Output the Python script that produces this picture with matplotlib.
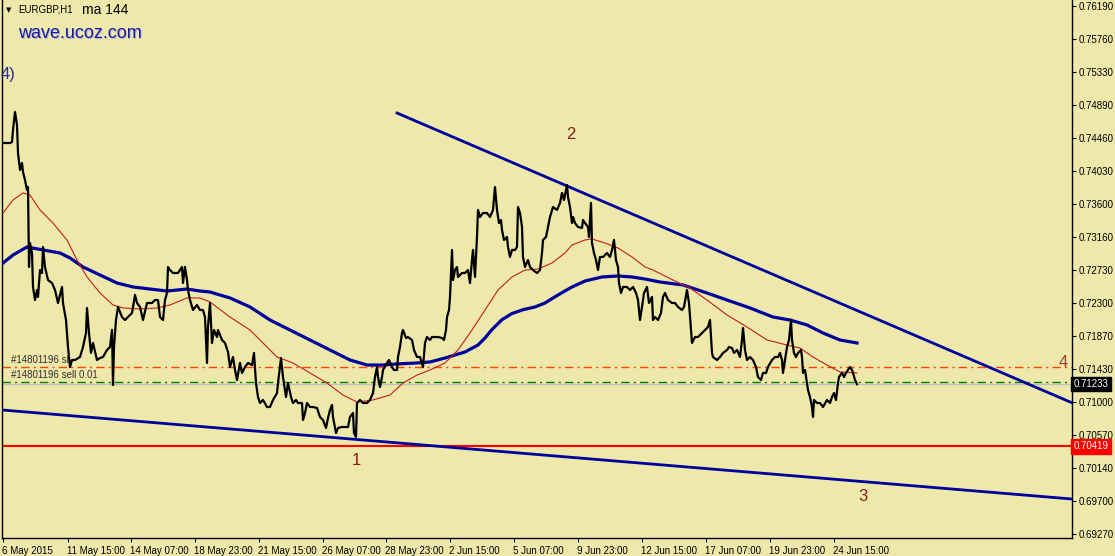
import numpy as np
import matplotlib
matplotlib.use("Agg")
import matplotlib.pyplot as plt
import matplotlib.transforms as mtransforms

plt.rcParams['font.family'] = ['Liberation Sans', 'DejaVu Sans']

# EURGBP H1 closes, sampled from the chart (bar number, price)
bars = [0, 5, 7, 9, 10, 12, 14, 15, 17, 19, 20, 22, 24, 25, 26, 27, 29, 30, 32, 34,
        35, 37, 39, 40, 42, 45, 49, 52, 55, 59, 60, 63, 65, 67, 69, 72, 77, 80, 83, 84,
        86, 88, 90, 94, 97, 100, 104, 107, 109, 110, 111, 113, 115, 119, 122, 125, 129, 132, 134, 137,
        140, 144, 149, 152, 155, 157, 160, 162, 164, 165, 167, 170, 175, 179, 180, 182, 184, 185, 187, 190,
        194, 197, 200, 202, 204, 205, 207, 209, 211, 214, 215, 219, 222, 225, 227, 230, 232, 234, 237, 239,
        242, 245, 249, 251, 253, 255, 257, 260, 264, 267, 270, 274, 275, 278, 280, 283, 285, 288, 290, 293,
        295, 299, 300, 302, 304, 307, 310, 314, 317, 320, 323, 325, 327, 329, 330, 333, 335, 339, 342, 345,
        347, 350, 351, 353, 354, 357, 360, 364, 367, 370, 372, 374, 375, 377, 379, 380, 384, 386, 389, 391,
        394, 395, 397, 399, 400, 403, 405, 409, 411, 414, 417, 420, 422, 424, 427, 429, 432, 435, 439, 441,
        443, 444, 446, 447, 449, 450, 452, 454, 455, 459, 462, 465, 467, 469, 470, 472, 474, 475, 477, 480,
        484, 487, 490, 492, 494, 496, 498, 499, 501, 504, 505, 507, 509, 512, 514, 515, 517, 519, 520, 522,
        525, 527, 530, 534, 537, 539, 540, 543, 545, 547, 550, 554, 557, 559, 561, 564, 565, 567, 569, 570,
        572, 575, 579, 580, 582, 585, 586, 588, 589, 591, 593, 595, 597, 600, 604, 607, 609, 611, 613, 615,
        616, 618, 620, 624, 627, 630, 633, 635, 637, 639, 641, 644, 646, 649, 650, 652, 655, 658, 660, 662,
        665, 669, 672, 675, 679, 681, 684, 686, 688, 689, 692, 695, 699, 702, 705, 707, 709, 710, 714, 717,
        720, 724, 726, 729, 731, 734, 737, 739, 740, 742, 744, 747, 750, 753, 755, 758, 760, 763, 765, 769,
        772, 775, 777, 779, 780, 783, 784, 786, 788, 789, 791, 793, 795, 798, 799, 800, 802, 804, 805, 807,
        809, 810, 811, 814, 817, 820, 824, 827, 829, 831, 833, 835, 836, 839, 841, 843, 845, 847, 849, 850,
        852, 854]
close = [0.74395, 0.74395, 0.74395, 0.74408, 0.74565, 0.74801, 0.74631, 0.74264, 0.74041, 0.74133,
         0.74015, 0.73910, 0.73779, 0.73818, 0.72770, 0.73084, 0.72953, 0.72508, 0.72337, 0.72468,
         0.72377, 0.72730, 0.72691, 0.73032, 0.72770, 0.72599, 0.72560, 0.72468, 0.72298, 0.72508,
         0.72298, 0.72075, 0.71721, 0.71459, 0.71551, 0.71551, 0.71590, 0.71721, 0.71905, 0.72233,
         0.71905, 0.71643, 0.71774, 0.71551, 0.71577, 0.71590, 0.71682, 0.71721, 0.71944, 0.71223,
         0.71721, 0.72075, 0.72246, 0.72114, 0.72075, 0.72114, 0.72167, 0.72403, 0.72298, 0.72246,
         0.72075, 0.72298, 0.72298, 0.72337, 0.72337, 0.72114, 0.72075, 0.72337, 0.72429, 0.72770,
         0.72730, 0.72691, 0.72691, 0.72770, 0.72560, 0.72770, 0.72599, 0.72468, 0.72337, 0.72206,
         0.72272, 0.72206, 0.72206, 0.72114, 0.71512, 0.71983, 0.72298, 0.71774, 0.71944, 0.71852,
         0.71944, 0.71813, 0.71774, 0.71656, 0.71459, 0.71590, 0.71420, 0.71289, 0.71512, 0.71381,
         0.71459, 0.71512, 0.71485, 0.71643, 0.71249, 0.71066, 0.70987, 0.71027, 0.70935, 0.70935,
         0.71027, 0.71118, 0.71249, 0.71577, 0.71328, 0.71066, 0.71249, 0.71066, 0.70987, 0.71027,
         0.70987, 0.70987, 0.70765, 0.70856, 0.70987, 0.70935, 0.70935, 0.70922, 0.70804, 0.70765,
         0.70660, 0.70791, 0.70896, 0.70961, 0.70804, 0.70594, 0.70660, 0.70673, 0.70673, 0.70673,
         0.70804, 0.70856, 0.70594, 0.70542, 0.70987, 0.71027, 0.70987, 0.70987, 0.71027, 0.71118,
         0.71328, 0.71459, 0.71328, 0.71197, 0.71328, 0.71420, 0.71512, 0.71551, 0.71459, 0.71420,
         0.71420, 0.71590, 0.71721, 0.71905, 0.71944, 0.71839, 0.71852, 0.71813, 0.71682, 0.71590,
         0.71590, 0.71459, 0.71774, 0.71852, 0.71813, 0.71852, 0.71852, 0.71852, 0.71839, 0.71813,
         0.71944, 0.72114, 0.72206, 0.72377, 0.72993, 0.72599, 0.72730, 0.72770, 0.72639, 0.72691,
         0.72691, 0.72730, 0.72560, 0.72861, 0.72993, 0.72639, 0.73163, 0.73517, 0.73425, 0.73477,
         0.73477, 0.73425, 0.73517, 0.73818, 0.73517, 0.73346, 0.73386, 0.73255, 0.73124, 0.73163,
         0.73032, 0.72901, 0.72993, 0.72993, 0.73032, 0.73556, 0.73477, 0.73294, 0.72901, 0.72770,
         0.72861, 0.72770, 0.72730, 0.72691, 0.72730, 0.72953, 0.73124, 0.73163, 0.73294, 0.73425,
         0.73556, 0.73517, 0.73609, 0.73740, 0.73648, 0.73844, 0.73687, 0.73556, 0.73346, 0.73425,
         0.73346, 0.73294, 0.73281, 0.73386, 0.73346, 0.73294, 0.73163, 0.73609, 0.73084, 0.72953,
         0.72861, 0.72730, 0.72901, 0.72901, 0.72953, 0.72901, 0.72993, 0.73124, 0.72861, 0.72770,
         0.72560, 0.72429, 0.72508, 0.72508, 0.72468, 0.72508, 0.72429, 0.72337, 0.72075, 0.72246,
         0.72429, 0.72508, 0.72298, 0.72377, 0.72075, 0.72114, 0.72075, 0.72167, 0.72377, 0.72429,
         0.72337, 0.72298, 0.72298, 0.72246, 0.72206, 0.72246, 0.72468, 0.72298, 0.71944, 0.71774,
         0.71852, 0.71852, 0.71905, 0.71944, 0.71983, 0.72075, 0.71643, 0.71590, 0.71551, 0.71590,
         0.71643, 0.71682, 0.71721, 0.71708, 0.71643, 0.71682, 0.71590, 0.71813, 0.71970, 0.71682,
         0.71551, 0.71590, 0.71551, 0.71459, 0.71328, 0.71289, 0.71381, 0.71381, 0.71459, 0.71551,
         0.71590, 0.71590, 0.71643, 0.71551, 0.71381, 0.71643, 0.71721, 0.71813, 0.72075, 0.71813,
         0.71643, 0.71590, 0.71643, 0.71682, 0.71590, 0.71381, 0.71420, 0.71249, 0.71158, 0.71066,
         0.70935, 0.70804, 0.71027, 0.70987, 0.70987, 0.70935, 0.71027, 0.70987, 0.71066, 0.71118,
         0.71027, 0.71249, 0.71328, 0.71381, 0.71328, 0.71381, 0.71420, 0.71459, 0.71420, 0.71381,
         0.71289, 0.71233]

# moving average 144 (blue)
ma144_bars = [0, 10, 24, 40, 57, 67, 80, 97, 114, 130, 147, 164, 184, 197, 207, 227, 247, 267, 287, 307,
              327, 347, 364, 380, 394, 414, 427, 442, 462, 475, 482, 489, 499, 509, 520, 532, 542, 555, 569, 582,
              599, 615, 629, 642, 657, 680, 704, 724, 747, 770, 787, 804, 820, 837, 854]
ma144 = [0.72822, 0.72927, 0.73032, 0.72993, 0.72953, 0.72888, 0.72770, 0.72665, 0.72560, 0.72508,
         0.72481, 0.72455, 0.72481, 0.72455, 0.72442, 0.72364, 0.72246, 0.72075, 0.71944, 0.71813,
         0.71682, 0.71551, 0.71485, 0.71485, 0.71499, 0.71512, 0.71525, 0.71577, 0.71656, 0.71747,
         0.71840, 0.71950, 0.72080, 0.72160, 0.72210, 0.72246, 0.72298, 0.72403, 0.72508, 0.72586,
         0.72639, 0.72652, 0.72639, 0.72612, 0.72573, 0.72534, 0.72429, 0.72337, 0.72233, 0.72114,
         0.72075, 0.72010, 0.71905, 0.71813, 0.71774]

# faster moving average (red)
ma_fast_bars = [0, 10, 20, 27, 37, 50, 64, 74, 84, 97, 110, 120, 137, 154, 167, 184, 197, 207, 227, 247,
                260, 274, 290, 307, 324, 340, 354, 370, 387, 400, 414, 427, 442, 455, 469, 482, 495, 509, 522, 535,
                549, 562, 569, 582, 589, 602, 615, 629, 642, 650, 670, 687, 704, 724, 744, 764, 784, 797, 810, 824,
                837, 854]
ma_fast = [0.73477, 0.73648, 0.73740, 0.73713, 0.73517, 0.73346, 0.73124, 0.72861, 0.72639, 0.72429,
           0.72272, 0.72233, 0.72219, 0.72233, 0.72272, 0.72364, 0.72364, 0.72311, 0.72114, 0.71944,
           0.71774, 0.71590, 0.71512, 0.71381, 0.71249, 0.71092, 0.71000, 0.71027, 0.71092, 0.71249,
           0.71354, 0.71420, 0.71512, 0.71682, 0.71944, 0.72206, 0.72468, 0.72639, 0.72730, 0.72743,
           0.72822, 0.72953, 0.73058, 0.73124, 0.73137, 0.73084, 0.73019, 0.72901, 0.72770, 0.72730,
           0.72599, 0.72494, 0.72337, 0.72141, 0.71983, 0.71813, 0.71747, 0.71708, 0.71590, 0.71485,
           0.71394, 0.71381]

# trend lines (bar, price) endpoints
upper_line_bars = [394, 1069]
upper_line = [0.74788, 0.70990]
lower_line_bars = [-1, 1069]
lower_line = [0.70896, 0.69729]

support = 0.70419
sl_price = 0.71455
sell_price = 0.71258
bid = 0.71233

y_ticks = [0.76190, 0.75760, 0.75330, 0.74890, 0.74460, 0.74030, 0.73600, 0.73160, 0.72730,
           0.72300, 0.71870, 0.71430, 0.71000, 0.70570, 0.70140, 0.69700, 0.69270]
x_tick_bars = [0, 65, 128, 192, 256, 320, 383, 447, 511, 575, 639, 703, 767, 831]
x_tick_labels = ["6 May 2015", "11 May 15:00", "14 May 07:00", "18 May 23:00", "21 May 15:00",
                 "26 May 07:00", "28 May 23:00", "2 Jun 15:00", "5 Jun 07:00", "9 Jun 23:00",
                 "12 Jun 15:00", "17 Jun 07:00", "19 Jun 23:00", "24 Jun 15:00"]

bg = "#EEE8AA"
navy = "#00009C"
wave_red = "#8B1A1A"

fig = plt.figure(figsize=(11.15, 5.56), dpi=100, facecolor=bg)
ax = fig.add_axes([2 / 1115, 1 - 538 / 556, 1070 / 1115, 538 / 556], facecolor=bg)

ax.set_xlim(-1, 1069)
ax.set_ylim(0.69218, 0.76269)

# horizontal levels
ax.axhline(bid, color="#C0C0C0", lw=1.0, zorder=1)
ax.axhline(sl_price, color="#FF4500", lw=1.0, dashes=(6, 3, 1.5, 3), zorder=1)
ax.axhline(sell_price, color="#008000", lw=1.0, dashes=(6, 3, 1.5, 3), zorder=1)
ax.axhline(support, color="#FF0000", lw=1.5, zorder=2)

# trend lines
ax.plot(upper_line_bars, upper_line, color=navy, lw=2.0, zorder=3)
ax.plot(lower_line_bars, lower_line, color=navy, lw=2.0, zorder=3)

# moving averages
ax.plot(ma144_bars, ma144, color=navy, lw=2.3, zorder=4)
ax.plot(ma_fast_bars, ma_fast, color="#C0201A", lw=0.8, zorder=4)

# price
ax.plot(bars, close, color="black", lw=1.6, zorder=5)

# axes styling
for side in ["left", "right", "bottom"]:
    ax.spines[side].set_color("black")
    ax.spines[side].set_linewidth(1.0)
ax.spines["top"].set_visible(False)

ax.yaxis.tick_right()
ax.set_yticks(y_ticks)
ax.set_yticklabels(["%.5f" % v for v in y_ticks])
ax.tick_params(axis="y", direction="out", length=3, width=0.8, pad=1.5,
               labelsize=7, colors="black")
ax.set_xticks(x_tick_bars)
ax.set_xticklabels(x_tick_labels, ha="left")
ax.tick_params(axis="x", direction="out", length=3, width=0.8, pad=3,
               labelsize=7, colors="black")
for lab in ax.get_xticklabels():
    lab.set_transform(lab.get_transform() + mtransforms.ScaledTranslation(-1 / 100, 0, fig.dpi_scale_trans))

# price tags on the right axis
trans = mtransforms.blended_transform_factory(ax.transAxes, ax.transData)
ax.text(1.0015, bid, "%.5f" % bid, transform=trans, fontsize=7, color="white", va="center",
        ha="left", bbox=dict(boxstyle="square,pad=0.22", fc="black", ec="black"), zorder=10,
        clip_on=False)
ax.text(1.0015, support, "%.5f" % support, transform=trans, fontsize=7, color="white", va="center",
        ha="left", bbox=dict(boxstyle="square,pad=0.22", fc="#FF0000", ec="#FF0000"), zorder=10,
        clip_on=False)

# order labels
ax.text(8, sl_price + 0.0003, "#14801196 sl", fontsize=7, color="#303030", va="bottom")
ax.text(8, sell_price + 0.0003, "#14801196 sell 0.01", fontsize=7, color="#303030", va="bottom")

# header
ax.text(0.004, 0.982, "\u25bc", transform=ax.transAxes, fontsize=5, color="black", va="center",
        family="DejaVu Sans")
ax.text(0.015, 0.982, "EURGBP,H1", transform=ax.transAxes, fontsize=7, color="black", va="center")
ax.text(0.075, 0.982, "ma 144", transform=ax.transAxes, fontsize=10, color="black", va="center")
ax.text(0.0160, 0.9355, "wave.ucoz.com", transform=ax.transAxes, fontsize=13, color="#B8B8D8",
        va="center")
ax.text(0.0150, 0.9385, "wave.ucoz.com", transform=ax.transAxes, fontsize=13, color="#1A1AA0",
        va="center")
ax.text(-0.001, 0.862, "4)", transform=ax.transAxes, fontsize=12, color="#2A2A90", va="center")

# wave counts
ax.text(353, 0.70235, "1", fontsize=12, color=wave_red, ha="center", va="center")
ax.text(568, 0.74500, "2", fontsize=12, color=wave_red, ha="center", va="center")
ax.text(860, 0.69760, "3", fontsize=12, color=wave_red, ha="center", va="center")
ax.text(1060, 0.71520, "4", fontsize=12, color="#9A3A2A", ha="center", va="center")

fig.savefig("out.png", dpi=100, facecolor=bg)
